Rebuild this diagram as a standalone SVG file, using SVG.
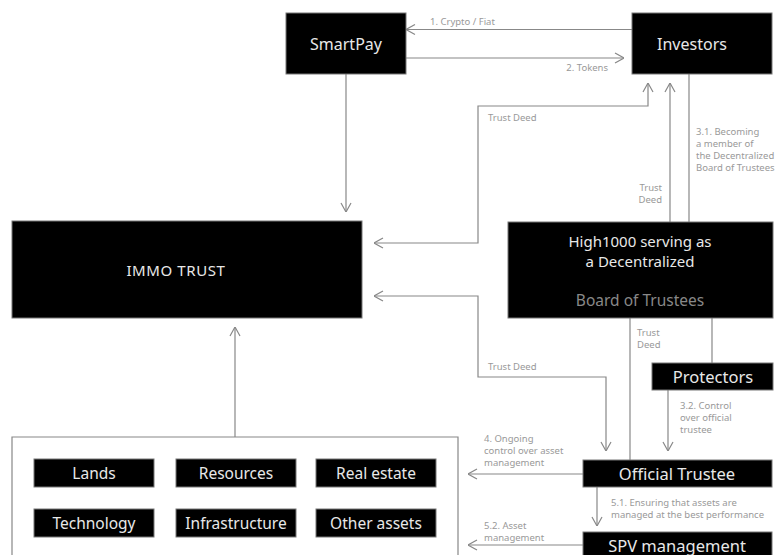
<svg xmlns="http://www.w3.org/2000/svg" width="778" height="555" viewBox="0 0 778 555">
<style>
.box{fill:#000;stroke:#777;stroke-width:1}
.bt{fill:#e8e8e8;font-family:"Noto Sans","Liberation Sans",sans-serif;font-size:15.5px;text-anchor:middle;dominant-baseline:central}
.lbl{fill:#999;font-family:"Noto Sans","Liberation Sans",sans-serif;font-size:9.5px}
.ln{fill:none;stroke:#888;stroke-width:1.2}
.ar{marker-end:url(#ah)}
.ar2{marker-start:url(#ah);marker-end:url(#ah)}
</style>
<defs>
<marker id="ah" viewBox="0 0 10 12" refX="10" refY="6" markerWidth="10" markerHeight="12" markerUnits="userSpaceOnUse" orient="auto-start-reverse">
<path d="M1,1 L10,6 L1,11" fill="none" stroke="#888" stroke-width="1.2"/>
</marker>
</defs>
<rect width="778" height="555" fill="#fff"/>
<g id="connectors">
<line class="ln ar" x1="632" y1="29.5" x2="406" y2="29.5"/>
<line class="ln ar" x1="406" y1="58" x2="624" y2="58"/>
<line class="ln ar" x1="346" y1="74" x2="346" y2="212"/>
<path class="ln ar2" d="M648,83 L648,106 L478,106 L478,243 L374,243"/>
<line class="ln ar" x1="670" y1="222" x2="670" y2="83"/>
<line class="ln" x1="689" y1="74" x2="689" y2="222"/>
<path class="ln ar2" d="M374,296 L478,296 L478,377 L606,377 L606,451"/>
<line class="ln" x1="630" y1="318" x2="630" y2="460"/>
<line class="ln" x1="712" y1="318" x2="712" y2="363"/>
<line class="ln ar" x1="668" y1="390" x2="668" y2="451"/>
<line class="ln ar" x1="583" y1="474" x2="468" y2="474"/>
<line class="ln ar" x1="597" y1="487" x2="597" y2="526"/>
<line class="ln ar" x1="583" y1="545" x2="468" y2="545"/>
<line class="ln ar" x1="235" y1="437" x2="235" y2="327"/>
<text class="lbl" x="430" y="25">1. Crypto / Fiat</text>
<text class="lbl" x="608" y="71" text-anchor="end">2. Tokens</text>
<text class="lbl" x="488" y="121">Trust Deed</text>
<text class="lbl" x="662" y="191" text-anchor="end">Trust</text>
<text class="lbl" x="662" y="203" text-anchor="end">Deed</text>
<text class="lbl" x="696" y="135">3.1. Becoming</text>
<text class="lbl" x="696" y="147">a member of</text>
<text class="lbl" x="696" y="159">the Decentralized</text>
<text class="lbl" x="696" y="171">Board of Trustees</text>
<text class="lbl" x="637" y="336">Trust</text>
<text class="lbl" x="637" y="348">Deed</text>
<text class="lbl" x="488" y="370">Trust Deed</text>
<text class="lbl" x="680" y="409">3.2. Control</text>
<text class="lbl" x="680" y="421">over official</text>
<text class="lbl" x="680" y="433">trustee</text>
<text class="lbl" x="484" y="442">4. Ongoing</text>
<text class="lbl" x="484" y="454">control over asset</text>
<text class="lbl" x="484" y="466">management</text>
<text class="lbl" x="611" y="506">5.1. Ensuring that assets are</text>
<text class="lbl" x="611" y="518">managed at the best performance</text>
<text class="lbl" x="484" y="529">5.2. Asset</text>
<text class="lbl" x="484" y="541">management</text>
</g>
<g id="smartpay"><rect class="box" x="286" y="13" width="120" height="61"/><text class="bt" x="346" y="43.5" style="font-size:16px">SmartPay</text></g>
<g id="investors"><rect class="box" x="632" y="13" width="140" height="61"/><text class="bt" x="692" y="43.5" style="font-size:16px">Investors</text></g>
<g id="immo-trust"><rect class="box" x="12" y="221" width="350" height="97"/><text class="bt" x="176" y="270" style="font-size:15px;letter-spacing:0.6px">IMMO TRUST</text></g>
<g id="high1000"><rect class="box" x="508" y="222" width="265" height="96"/>
<text class="bt" x="640" y="241" style="font-size:15px">High1000 serving as</text>
<text class="bt" x="640" y="261" style="font-size:15px">a Decentralized</text>
<text class="bt" x="640" y="300" style="fill:#888">Board of Trustees</text></g>
<g id="protectors"><rect class="box" x="652" y="363" width="121" height="27"/><text class="bt" x="713" y="376.5" style="font-size:16.5px">Protectors</text></g>
<g id="official-trustee"><rect class="box" x="583" y="460" width="189" height="27"/><text class="bt" x="677" y="473.5" style="font-size:16.5px">Official Trustee</text></g>
<g id="spv"><rect class="box" x="583" y="532" width="189" height="30"/><text class="bt" x="677" y="545" style="font-size:16.5px">SPV management</text></g>
<g id="assets">
<path d="M12,556 L12,437 L458,437 L458,556" fill="none" stroke="#888" stroke-width="1.2"/>
<g id="lands"><rect class="box" x="34" y="459" width="120" height="28"/><text class="bt" x="94" y="473">Lands</text></g>
<g id="resources"><rect class="box" x="176" y="459" width="120" height="28"/><text class="bt" x="236" y="473">Resources</text></g>
<g id="real-estate"><rect class="box" x="316" y="459" width="120" height="28"/><text class="bt" x="376" y="473">Real estate</text></g>
<g id="technology"><rect class="box" x="34" y="509" width="120" height="28"/><text class="bt" x="94" y="523">Technology</text></g>
<g id="infrastructure"><rect class="box" x="176" y="509" width="120" height="28"/><text class="bt" x="236" y="523">Infrastructure</text></g>
<g id="other-assets"><rect class="box" x="316" y="509" width="120" height="28"/><text class="bt" x="376" y="523">Other assets</text></g>
</g>
</svg>
